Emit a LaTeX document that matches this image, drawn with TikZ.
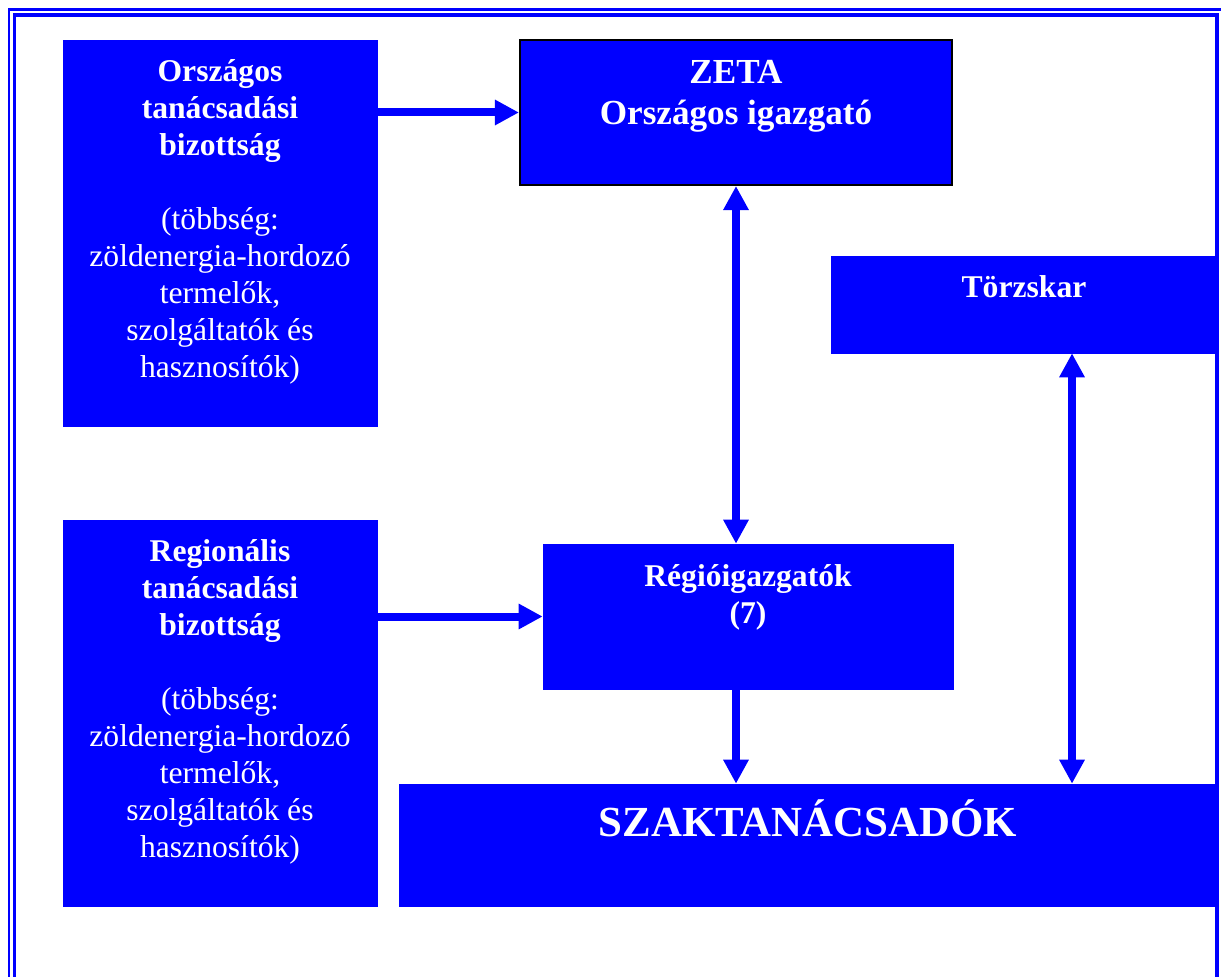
\documentclass[tikz,border=0pt]{standalone}
\usepackage{fontspec}
\setmainfont{Liberation Serif}
\usetikzlibrary{arrows.meta, positioning, calc}
\definecolor{zetablue}{RGB}{0,0,255}
\tikzstyle{block} = [rectangle, fill=zetablue, draw=zetablue, inner sep=0pt]
\tikzstyle{boxtext} = [anchor=north, inner sep=0pt, align=center, text=white, font=\fontsize{22.5}{26.3}\selectfont]
\tikzstyle{frame} = [draw=zetablue]
\tikzstyle{arrow} = [line width=0.2cm, zetablue, -{Triangle[length=0.6cm, width=0.6cm]}]
\tikzstyle{twoway} = [line width=0.2cm, zetablue, {Triangle[length=0.6cm, width=0.6cm]}-{Triangle[length=0.6cm, width=0.6cm]}]

\begin{document}
\begin{tikzpicture}[x=0.025cm, y=-0.025cm]
\useasboundingbox (0,0) rectangle (1221,977);
% Double frame
\draw[frame, line width=0.07cm] (9,9.5) rectangle (1224,990);
\draw[frame, line width=0.08cm] (14.5,15) rectangle (1217,985);

% Boxes
\node[block, minimum width=7.85cm, minimum height=9.65cm] (orszagos) at (220,233) {};
\node[block, draw=black, line width=0.05cm, minimum width=10.8cm, minimum height=3.625cm] (zeta) at (736,112.5) {};
\node[block, minimum width=9.65cm, minimum height=2.425cm] (torzskar) at (1024,304.5) {};
\node[block, minimum width=7.85cm, minimum height=9.65cm] (regionalis) at (220,713) {};
\node[block, minimum width=10.25cm, minimum height=3.625cm] (regio) at (748,616.5) {};
\node[block, minimum width=20.45cm, minimum height=3.05cm] (szak) at (808,845) {};

% Texts
\node[boxtext] (orszagos-t) at ([yshift=-0.4cm]orszagos.north) {\strut\textbf{Országos}\\\textbf{tanácsadási}\\\textbf{bizottság}\\[26pt](többség:\\zöldenergia-hordozó\\termelők,\\szolgáltatók és\\hasznosítók)};
\node[boxtext, font=\fontsize{25}{29}\selectfont] (zeta-t) at ([yshift=-0.4cm]zeta.north) {\strut\textbf{ZETA}\\\textbf{Országos igazgató}};
\node[boxtext] (torzskar-t) at ([yshift=-0.4cm]torzskar.north) {\strut\textbf{Törzskar}};
\node[boxtext] (regionalis-t) at ([yshift=-0.4cm]regionalis.north) {\strut\textbf{Regionális}\\\textbf{tanácsadási}\\\textbf{bizottság}\\[26pt](többség:\\zöldenergia-hordozó\\termelők,\\szolgáltatók és\\hasznosítók)};
\node[boxtext] (regio-t) at ([yshift=-0.425cm]regio.north) {\strut\textbf{Régióigazgatók}\\\textbf{(7)}};
\node[anchor=base, inner sep=0pt, text=white, font=\fontsize{30.5}{36}\selectfont\bfseries] (szak-t) at (808,836) {SZAKTANÁCSADÓK};

% Arrows
\draw[arrow] (orszagos.east |- zeta.west) -- (zeta.west);
\draw[twoway] (zeta.south) -- (zeta.south |- regio.north);
\draw[arrow] (regionalis.east |- regio.west) -- (regio.west);
\draw[arrow] (zeta.south |- regio.south) -- (zeta.south |- szak.north);
\draw[twoway] ([xshift=1.2cm]torzskar.south) -- ([xshift=1.2cm]torzskar.south |- szak.north);
\end{tikzpicture}
\end{document}
